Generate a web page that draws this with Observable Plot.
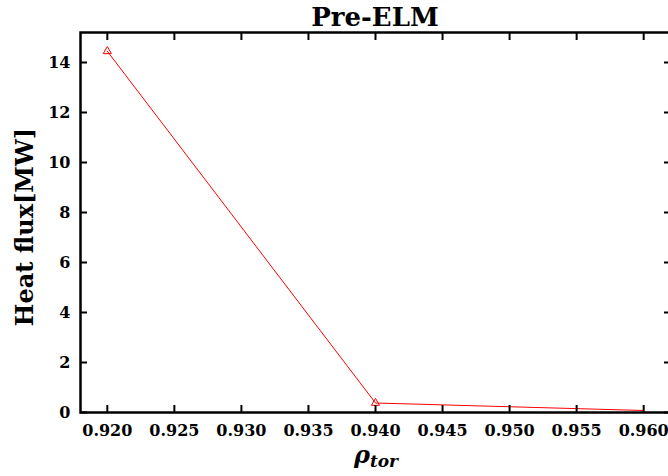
<!DOCTYPE html>
<html>
<head>
<meta charset="utf-8">
<script src="https://cdn.jsdelivr.net/npm/d3@7"></script>
<script src="https://cdn.jsdelivr.net/npm/@observablehq/plot@0.6"></script>
<style>
  html, body { margin: 0; padding: 0; background: #fff; overflow: hidden; width: 668px; height: 476px; }
  #chart svg { display: block; max-width: none !important; }
</style>
</head>
<body>
<div id="chart"></div>
<script>
// Heat flux profile before the ELM crash, against normalised toroidal flux radius
const rho = [0.920, 0.940, 0.960];
const heatFlux = [14.45, 0.38, 0.08];
const markedPoints = [0, 1];
const xTicks = [0.920, 0.925, 0.930, 0.935, 0.940, 0.945, 0.950, 0.955, 0.960];
const yTicks = [0, 2, 4, 6, 8, 10, 12, 14];
const title = "Pre-ELM";
const yLabel = "Heat flux[MW]";
const xLabelMain = "ρ";
const xLabelSub = "tor";

const data = rho.map((r, i) => ({rho: r, q: heatFlux[i]}));
const marked = markedPoints.map(i => data[i]);
const serif = "'DejaVu Serif', serif";

const width = 672, height = 476;
const marginLeft = 80, marginRight = 2, marginTop = 32, marginBottom = 64;

const plot = Plot.plot({
  width, height, marginLeft, marginRight, marginTop, marginBottom,
  style: {fontFamily: serif, fontSize: "16px", fontWeight: "bold", background: "#fff", color: "#000", maxWidth: "none"},
  x: {domain: [0.918, 0.962]},
  y: {domain: [0, 15.2]},
  marks: [
    Plot.line(data, {x: "rho", y: "q", stroke: "#ff0000", strokeWidth: 1}),
    Plot.dot(marked, {x: "rho", y: "q", symbol: "triangle", r: 3, stroke: "#ff0000", strokeWidth: 1, fill: "none"}),
    // tick labels
    Plot.axisX(xTicks, {anchor: "bottom", tickSize: 0, tickPadding: 12, tickFormat: d3.format(".3f"), label: null}),
    Plot.axisY(yTicks, {anchor: "left", tickSize: 0, tickPadding: 10, tickFormat: d => String(d), label: null}),
    // inward ticks on all four sides
    Plot.axisX(xTicks, {anchor: "bottom", tickSize: -7, text: null, strokeWidth: 2, label: null}),
    Plot.axisX(xTicks, {anchor: "top", tickSize: -7, text: null, strokeWidth: 2, label: null}),
    Plot.axisY(yTicks, {anchor: "left", tickSize: -7, text: null, strokeWidth: 2, label: null}),
    Plot.axisY(yTicks, {anchor: "right", tickSize: -7, text: null, strokeWidth: 2, label: null}),
    Plot.frame({stroke: "#000", strokeWidth: 2.5})
  ]
});

plot.style.maxWidth = "none";
document.getElementById("chart").appendChild(plot);

const svg = d3.select(plot);
const cx = (marginLeft + width - marginRight) / 2;
const cy = (marginTop + height - marginBottom) / 2;

svg.append("text")
  .attr("x", cx).attr("y", 26)
  .attr("text-anchor", "middle")
  .style("font-family", serif).style("font-weight", "bold").style("font-size", "26px")
  .attr("fill", "#000")
  .text(title);

svg.append("text")
  .attr("transform", `translate(33,${cy + 5}) rotate(-90)`)
  .attr("text-anchor", "middle")
  .style("font-family", serif).style("font-weight", "bold").style("font-size", "24px")
  .attr("fill", "#000")
  .text(yLabel);

const xl = svg.append("text")
  .attr("x", cx + 1).attr("y", 463)
  .attr("text-anchor", "middle")
  .style("font-family", serif).style("font-weight", "bold").style("font-style", "italic")
  .attr("fill", "#000");
xl.append("tspan").style("font-size", "24px").text(xLabelMain);
xl.append("tspan").style("font-size", "17px").attr("dy", 4).text(xLabelSub);
</script>
</body>
</html>
